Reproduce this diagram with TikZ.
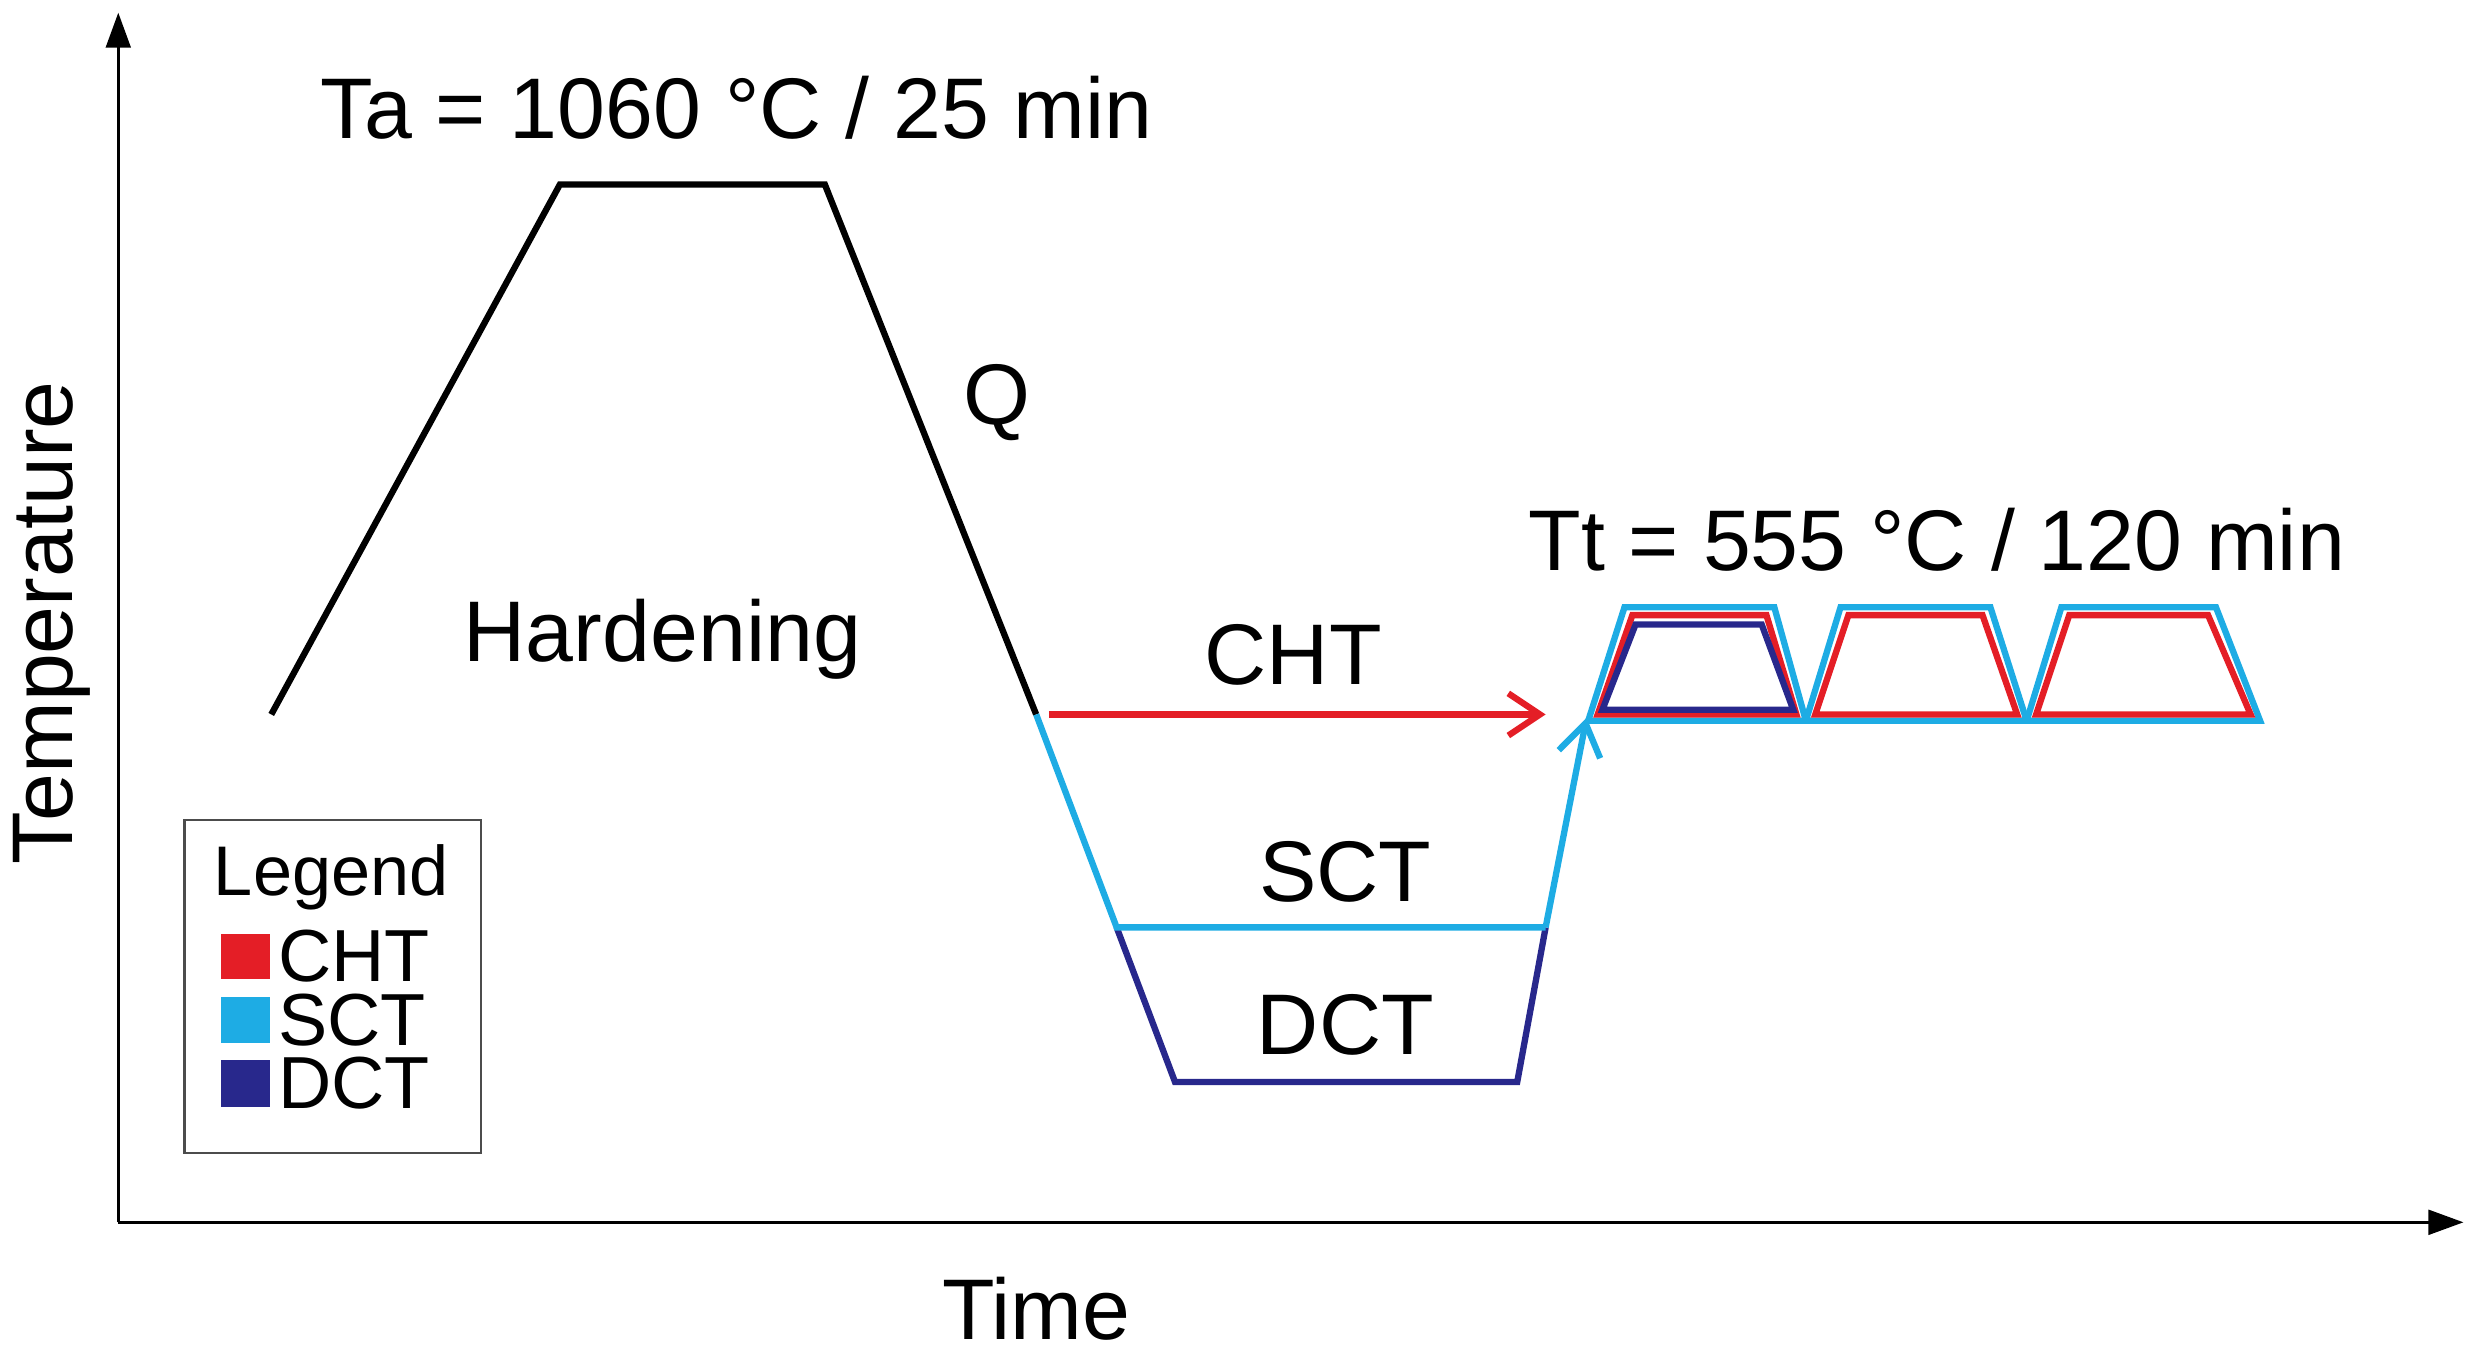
\documentclass[tikz,border=0pt]{standalone}
\usepackage{fontspec}
\setmainfont{Liberation Sans}
\usetikzlibrary{arrows.meta}
\definecolor{cred}{RGB}{228,30,38}
\definecolor{clb}{RGB}{30,172,228}
\definecolor{cdb}{RGB}{40,40,140}
\begin{document}
\begin{tikzpicture}[x=0.01577cm,y=-0.01577cm,
  lbl/.style={font=\fontsize{24.5}{28}\selectfont,inner sep=0},
  leglbl/.style={font=\fontsize{21}{22}\selectfont,inner sep=0,anchor=west},
  ln/.style={line width=1.8pt},
  ar/.style={ln,-{Straight Barb[length=9pt,width=12pt]}}]
\useasboundingbox (0,0) rectangle (1568,861);
% axes
\coordinate (o) at (75,775);
\coordinate (yt) at (75,8);
\coordinate (xt) at (1562,775);
\draw[line width=1pt,-{Triangle[length=10pt,width=7pt]}] (o) -- (yt);
\draw[line width=1pt,-{Triangle[length=10pt,width=7pt]}] (o) -- (xt);
\node[lbl,rotate=90] (temp) at (33,395) {Temperature};
\node[lbl] (time) at (657,830) {Time};
% hardening
\draw[ln,black] (172,453) -- (355,117) -- (523,117) -- (657,453);
\node[lbl] (ta) at (467,68) {Ta = 1060 °C / 25 min};
\node[lbl] (q) at (632,255) {Q};
\node[lbl] (hard) at (420,405) {Hardening};
% CHT
\coordinate (c1) at (665,453);
\coordinate (c2) at (980,453);
\draw[ar,cred] (c1) -- (c2);
\node[lbl] (cht) at (820,415) {CHT};
% DCT
\draw[ln,cdb] (708,588) -- (745,686) -- (962,686) -- (980,588);
\node[lbl] (dct) at (853,650) {DCT};
% SCT
\coordinate (s1) at (1006,455);
\draw[ln,clb] (657,453) -- (708,588) -- (980,588);
\draw[ar,clb] (980,588) -- (s1);
\node[lbl] (sct) at (853,553) {SCT};
% tempering
\foreach \a/\b/\c/\d in {1007/1030/1125/1145,1145/1167/1262/1285,1285/1307/1405/1433}{
  \draw[ln,clb] (\a,457) -- (\b,385) -- (\c,385) -- (\d,457) -- cycle;
  \draw[ln,cred] (\a+6,453) -- (\b+5,390) -- (\c-5,390) -- (\d-6,453) -- cycle;
}
\draw[ln,cdb] (1016,450) -- (1037,396) -- (1117,396) -- (1137,450) -- cycle;
\node[lbl] (tt) at (1228,342) {Tt = 555 °C / 120 min};
% legend
\draw[line width=0.6pt,black!70] (117,520) rectangle (305,731);
\node[lbl,font=\fontsize{20}{22}\selectfont] (leg) at (210,556) {Legend};
\fill[cred] (140,592) rectangle (171,621);
\fill[clb] (140,632) rectangle (171,661);
\fill[cdb] (140,672) rectangle (171,702);
\node[leglbl] (l1) at (176,606) {CHT};
\node[leglbl] (l2) at (176,647) {SCT};
\node[leglbl] (l3) at (176,687) {DCT};
\end{tikzpicture}
\end{document}
